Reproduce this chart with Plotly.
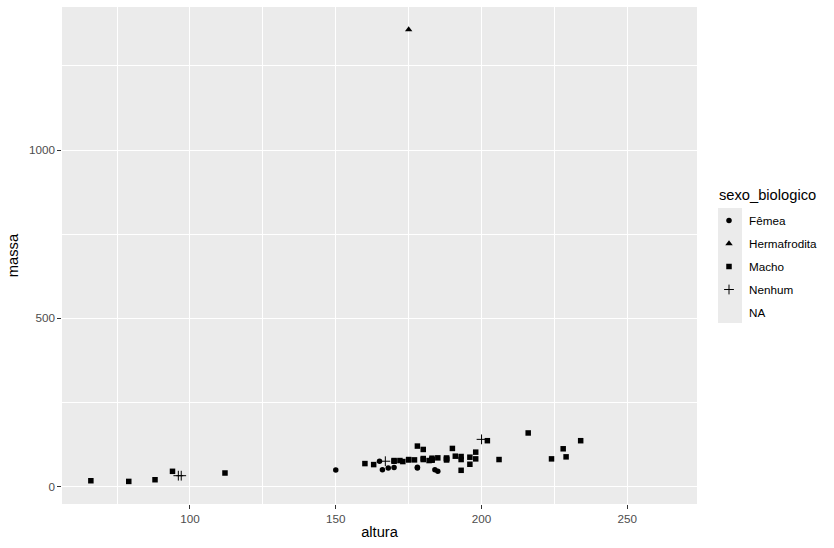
import plotly.graph_objects as go

# Data (starwars: height vs mass by sex)
femea_altura = [150, 165, 185, 178, 184, 170, 166, 168, 178]
femea_massa = [49, 75, 45, 55, 50, 56.2, 50, 55, 57]

herm_altura = [175]
herm_massa = [1358]

macho_altura = [172, 202, 178, 183, 182, 188, 228, 180, 173, 170, 180, 66, 170, 183,
                190, 177, 175, 180, 88, 160, 193, 191, 196, 224, 112, 175, 79, 94,
                163, 188, 198, 196, 188, 185, 183, 193, 183, 198, 229, 193, 216, 234,
                188, 206]
macho_massa = [77, 136, 120, 84, 77, 84, 112, 80, 74, 77, 110, 17, 75, 78.2,
               113, 79, 79, 83, 20, 68, 89, 90, 66, 82, 40, 80, 15, 45,
               65, 84, 82, 87, 80, 85, 80, 80, 79, 102, 88, 48, 159, 136,
               79, 80]

nenhum_altura = [167, 96, 97, 200]
nenhum_massa = [75, 32, 32, 140]

na_altura = [178]
na_massa = [48]

# x scale also trained on heights with missing mass (max 264)
x_limits = [66, 264]
y_limits = [15, 1358]

def expand(lims, f=0.05):
    d = (lims[1] - lims[0]) * f
    return [lims[0] - d, lims[1] + d]

xr = expand(x_limits)
yr = expand(y_limits)

fig = go.Figure()
common = dict(mode="markers")
fig.add_trace(go.Scatter(x=femea_altura, y=femea_massa, name="Fêmea", legendgroup="a",
                         marker=dict(symbol="circle", size=5.5, color="black"), **common))
fig.add_trace(go.Scatter(x=herm_altura, y=herm_massa, name="Hermafrodita", legendgroup="b",
                         marker=dict(symbol="triangle-up", size=6.5, color="black"), **common))
fig.add_trace(go.Scatter(x=macho_altura, y=macho_massa, name="Macho", legendgroup="c",
                         marker=dict(symbol="square", size=5.5, color="black"), **common))
fig.add_trace(go.Scatter(x=nenhum_altura, y=nenhum_massa, name="Nenhum", legendgroup="d",
                         marker=dict(symbol="cross-thin", size=7, color="black",
                                     line=dict(color="black", width=1)), **common))
fig.add_trace(go.Scatter(x=na_altura, y=na_massa, name="NA", legendgroup="e",
                         marker=dict(symbol="circle", size=5.5, color="rgba(0,0,0,0)"), **common))

L, R, T, B = 62, 697, 7, 504
W, H = 834, 548
pw, ph = R - L, B - T

def px_x(p):
    return (p - L) / pw

def px_y(p):
    return (B - p) / ph

axis_common = dict(
    showgrid=True, gridcolor="white", gridwidth=1.1,
    minor=dict(showgrid=True, gridcolor="white", gridwidth=0.5),
    zeroline=False, showline=False, automargin=False,
    ticks="outside", ticklen=3.7, tickcolor="#333333", tickwidth=1.1,
    tickfont=dict(family="Liberation Sans, Arial", size=11.7, color="#4D4D4D"),
)

fig.update_xaxes(range=xr, tickvals=[100, 150, 200, 250],
                 minor_tickvals=[75, 125, 175, 225, 275],
                 title=dict(text="altura", font=dict(family="Liberation Sans, Arial", size=14.7, color="black"),
                            standoff=2),
                 **axis_common)
fig.update_yaxes(range=yr, tickvals=[0, 500, 1000],
                 minor_tickvals=[250, 750, 1250],
                 title=dict(text="massa", font=dict(family="Liberation Sans, Arial", size=14.7, color="black"),
                            standoff=6),
                 **axis_common)
fig.update_xaxes(minor_ticks="")
fig.update_yaxes(minor_ticks="")

fig.update_layout(
    width=W, height=H,
    margin=dict(l=L, r=W - R, t=T, b=H - B, autoexpand=False),
    plot_bgcolor="#EBEBEB", paper_bgcolor="white",
    font=dict(family="Liberation Sans, Arial", color="black"),
    showlegend=True,
    legend=dict(x=px_x(709), y=px_y(206), xanchor="left", yanchor="top",
                font=dict(size=11.7, color="black"), tracegroupgap=4,
                bgcolor="rgba(0,0,0,0)"),
    shapes=[dict(type="rect", xref="paper", yref="paper",
                 x0=px_x(718), x1=px_x(742), y0=px_y(323), y1=px_y(208),
                 fillcolor="#EBEBEB", line=dict(width=0), layer="below")],
    annotations=[dict(text="sexo_biologico", xref="paper", yref="paper",
                      x=px_x(717), y=px_y(195), xanchor="left", yanchor="middle",
                      showarrow=False, font=dict(size=14.7, color="black"))],
)

fig.write_html("out.html", config={"displayModeBar": False},
               post_script="document.body.style.margin='0';document.body.style.padding='0';")
